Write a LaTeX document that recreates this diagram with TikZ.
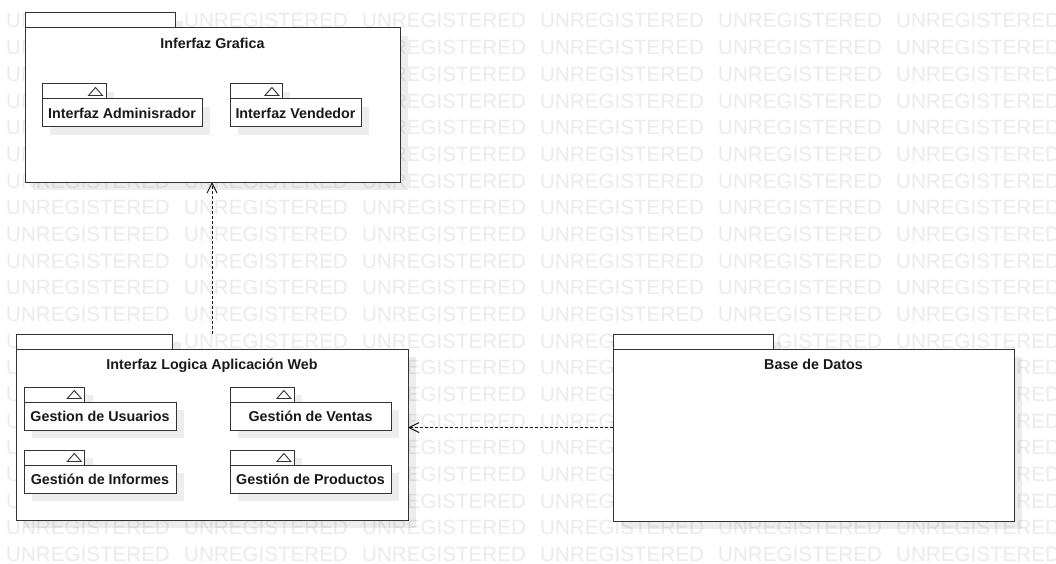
\documentclass[tikz,border=0pt]{standalone}
\usepackage{fontspec}
\setmainfont{Liberation Sans}
\usetikzlibrary{arrows.meta,calc}

\tikzset{
  pkgbox/.style={draw=none, rectangle, inner sep=0pt, outer sep=0pt},
  pkgline/.style={draw=black!80, line width=1pt, fill=white},
  pkgshadow/.style={fill=black, fill opacity=0.07, draw=none},
  pkgtitle/.style={font=\bfseries\fontsize{14.3}{16}\selectfont, text=black!90, anchor=base, inner sep=0pt},
  dep/.style={draw=black!90, line width=1pt, dash pattern=on 3pt off 2pt,
              -{Straight Barb[length=10pt,width=10pt]}},
  wmark/.style={text=black!8, font=\fontsize{20.6}{22}\selectfont, anchor=base west, inner sep=0pt},
}

% UML package: name, left, top, width, total height (tab included)
\newcommand\umlpkg[5]{%
  \node[pkgbox, minimum width=#4pt, minimum height=#5pt, anchor=north west] (#1) at (#2,#3) {};
  \fill[pkgshadow] ($(#1.north west)+(8,8)$) rectangle ++({0.4*#4},15);
  \fill[pkgshadow] ($(#1.north west)+(8,23)$) rectangle ($(#1.south east)+(8,8)$);
  \path[pkgline] (#1.north west) rectangle ++({0.4*#4},15);
  \path[pkgline] ($(#1.north west)+(0,15)$) rectangle (#1.south east);
}
% nested package with its small triangle in the tab
\newcommand\umlsubpkg[6]{%
  \umlpkg{#1}{#2}{#3}{#4}{#5}
  \draw[pkgline, line width=0.9pt] ($(#1.north west)+({0.4*#4-17.5},11.5)$) -- ++(7,-8) -- ++(7,8) -- cycle;
  \node[pkgtitle] (#1-lbl) at ($(#1.north)+(0,34.5)$) {#6};
}

\begin{document}
\begin{tikzpicture}[x=1pt, y=-1pt]
  \useasboundingbox (0,0) rectangle (1056,564);
  \fill[white] (0,0) rectangle (1056,564);

  % background lettering
  \begin{scope}
    \clip (0,0) rectangle (1056,564);
    \foreach \r in {0,...,20}
      \foreach \c in {0,...,5}
        \node[wmark] (wm-\r-\c) at ({6+178*\c},{28+26.67*\r}) {UNREGISTERED};
  \end{scope}

  % presentation layer
  \umlpkg{grafica}{25}{13}{375}{169}
  \node[pkgtitle] (grafica-lbl) at ($(grafica.north)+(0,35.5)$) {Inferfaz Grafica};
  \umlsubpkg{admin}{42}{84}{160}{43}{Interfaz Adminisrador}
  \umlsubpkg{vendedor}{230}{84}{131}{43}{Interfaz Vendedor}

  % application logic
  \umlpkg{logica}{16}{334}{392}{186}
  \node[pkgtitle] (logica-lbl) at ($(logica.north)+(0,35)$) {Interfaz Logica Aplicación Web};
  \umlsubpkg{usuarios}{24}{387}{152}{43}{Gestion de Usuarios}
  \umlsubpkg{ventas}{230}{387}{161}{43}{Gestión de Ventas}
  \umlsubpkg{informes}{24}{450}{152}{43}{Gestión de Informes}
  \umlsubpkg{productos}{230}{450}{161}{43}{Gestión de Productos}

  % data layer
  \umlpkg{datos}{613}{334}{401}{187}
  \node[pkgtitle] (datos-lbl) at ($(datos.north)+(0,35)$) {Base de Datos};

  % dependencies
  \draw[dep] (logica.north) -- (logica.north |- grafica.south);
  \draw[dep] (datos.west) -- (datos.west -| logica.east);
\end{tikzpicture}
\end{document}
